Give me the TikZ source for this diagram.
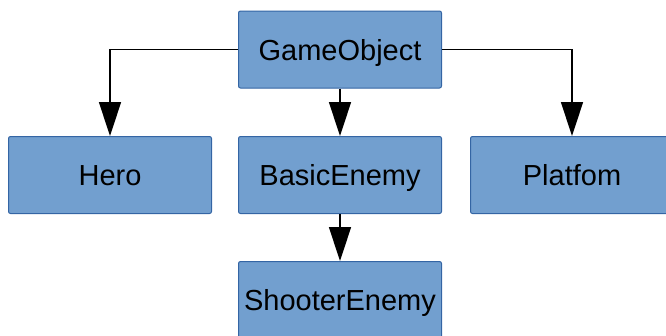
\documentclass[tikz,border=0pt]{standalone}
\usepackage{fontspec}
\setmainfont{Liberation Sans}
\usepackage{tikz}
\usetikzlibrary{arrows.meta, positioning}
\definecolor{boxfill}{HTML}{729FCF}
\definecolor{boxdraw}{HTML}{3465A4}

\begin{document}
\begin{tikzpicture}[x=1pt, y=-1pt,
		classbox/.style = {draw=boxdraw, fill=boxfill, line width=1pt, rounded corners=2pt,
			minimum width=203pt, minimum height=77pt, inner sep=0pt,
			text height=21pt, text depth=0pt,
			font=\fontsize{29}{34}\selectfont},
		inherit/.style = {line width=1.5pt, -{Triangle[length=34pt, width=22pt]}}
	]

	\useasboundingbox (0,0) rectangle (666,335);

	% class boxes
	\node[classbox] (obj) at (340, 49.5) {GameObject};
	\node[classbox] (hero) at (110, 175) {Hero};
	\node[classbox] (basic) at (340, 175) {BasicEnemy};
	\node[classbox] (plat) at (572, 175) {Platfom};
	\node[classbox] (shooter) at (340, 300) {ShooterEnemy};

	% inheritance links
	\draw[inherit] (obj.west) -| (hero.north);
	\draw[inherit] (obj.east) -| (plat.north);
	\draw[inherit] (obj.south) -- (basic.north);
	\draw[inherit] (basic.south) -- (shooter.north);

\end{tikzpicture}
\end{document}
